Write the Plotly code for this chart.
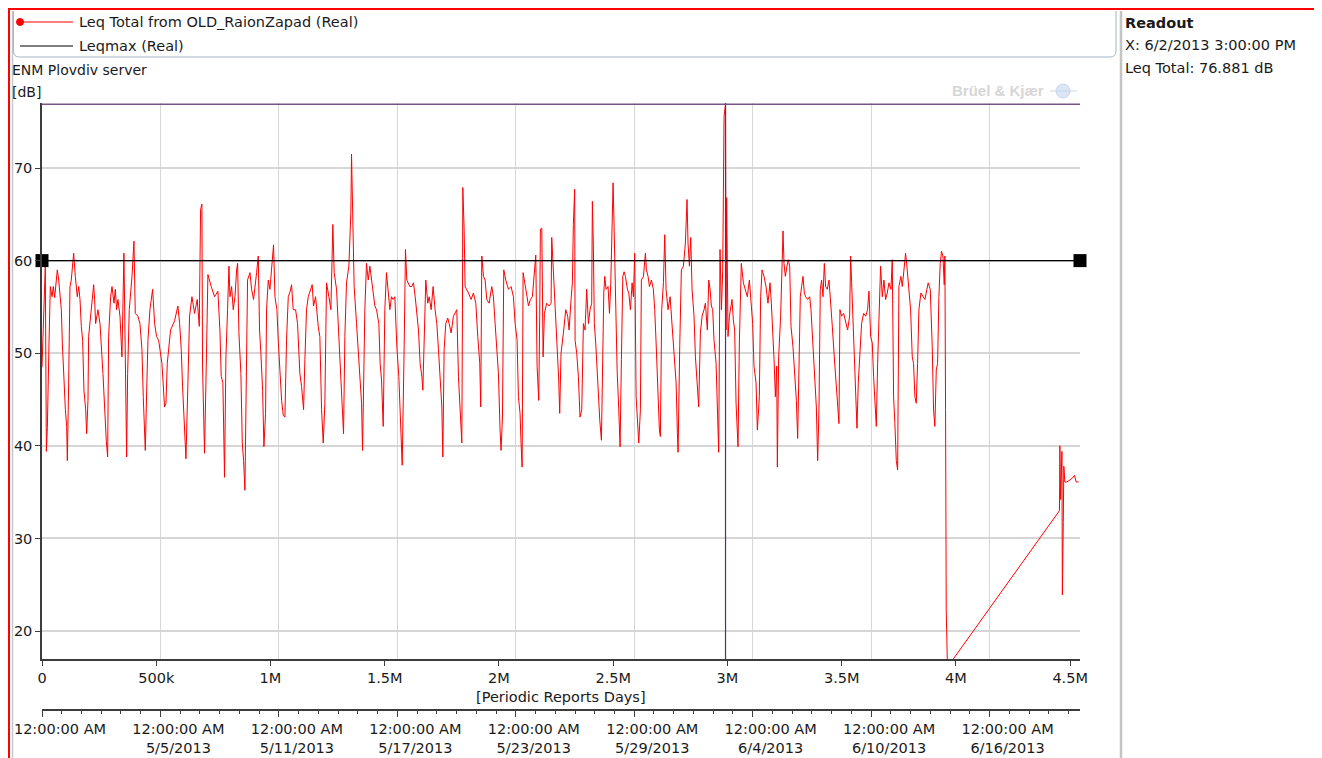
import plotly.graph_objects as go

# Leq Total from OLD_RaionZapad (Real).
# time in hours after 4/29/2013 12:00:00 AM, level in dB
leq_hours = [
    0.0, 1.6, 3.2, 4.0, 5.3, 6.5, 8.5, 10.1, 12.2, 13.8,
    15.4, 17.4, 18.6, 20.3, 22.7, 23.5, 24.7, 26.3, 28.4, 30.0,
    30.8, 32.4, 34.0, 35.6, 37.3, 38.5, 40.5, 42.9, 44.6, 46.2,
    47.8, 49.4, 51.0, 53.1, 54.3, 55.9, 56.7, 58.3, 59.9, 61.6,
    62.8, 64.0, 65.2, 68.0, 70.5, 74.1, 76.1, 78.2, 79.8, 81.0,
    83.4, 85.1, 87.5, 89.1, 90.7, 92.3, 94.8, 97.2, 99.6, 101.3,
    102.5, 102.9, 104.1, 106.1, 109.4, 111.8, 113.4, 116.6, 119.1, 121.5,
    123.1, 125.6, 127.2, 128.8, 131.2, 134.5, 136.9, 139.3, 141.8, 144.2,
    145.8, 149.0, 150.7, 152.3, 156.3, 161.2, 165.2, 167.3, 169.3, 170.9,
    173.3, 175.0, 177.4, 179.4, 182.3, 185.5, 188.7, 191.2, 192.8, 194.4,
    195.2, 197.6, 200.0, 201.7, 205.7, 209.8, 213.8, 216.3, 217.9, 219.9,
    221.9, 223.6, 225.6, 227.3, 228.5, 230.5, 232.5, 234.6, 236.6, 237.8,
    239.4, 241.8, 243.5, 245.1, 246.7, 248.3, 249.9, 252.8, 254.8, 257.2,
    258.9, 260.9, 262.9, 264.5, 266.1, 268.2, 269.8, 271.8, 273.0, 275.1,
    277.1, 279.1, 281.5, 283.2, 285.6, 287.2, 289.2, 291.3, 293.3, 295.3,
    297.3, 299.4, 301.8, 303.4, 305.4, 308.3, 310.7, 313.5, 315.6, 318.0,
    319.6, 321.6, 323.7, 326.9, 328.5, 330.1, 332.6, 335.8, 337.8, 339.9,
    341.9, 343.9, 345.9, 348.8, 351.2, 353.6, 355.2, 358.1, 362.1, 364.2,
    366.6, 368.2, 370.2, 373.1, 375.5, 376.3, 377.9, 379.5, 382.4, 384.4,
    386.4, 388.5, 389.7, 392.5, 394.5, 396.6, 398.6, 400.6, 402.6, 404.7,
    406.7, 409.5, 411.1, 412.8, 414.8, 416.8, 418.8, 420.9, 422.9, 424.9,
    426.9, 429.0, 431.4, 433.8, 435.8, 437.9, 440.3, 441.9, 443.5, 447.2,
    449.6, 451.6, 453.7, 455.7, 457.7, 459.7, 461.8, 463.0, 465.0, 466.6,
    469.0, 470.7, 473.1, 475.5, 477.9, 480.0, 482.0, 484.0, 486.1, 487.3,
    488.9, 490.9, 493.3, 495.0, 497.4, 500.2, 502.3, 504.3, 506.3, 508.3,
    510.4, 511.2, 511.6, 513.2, 514.4, 518.5, 521.7, 524.5, 527.4, 529.8,
    532.2, 533.4, 534.7, 536.7, 538.7, 540.7, 543.6, 546.8, 548.8, 550.9,
    552.9, 554.9, 556.9, 558.1, 559.8, 561.4, 563.8, 567.1, 570.3, 573.1,
    575.2, 577.6, 579.2, 581.2, 582.4, 583.7, 584.9, 587.3, 589.7, 591.4,
    593.8, 596.2, 598.6, 600.3, 601.9, 603.9, 605.1, 605.9, 607.6, 609.2,
    610.8, 613.6, 616.5, 618.9, 619.7, 621.3, 622.9, 624.6, 626.6, 628.2,
    629.4, 631.0, 633.9, 636.7, 639.1, 640.8, 643.2, 644.8, 646.0, 647.6,
    648.1, 650.1, 652.1, 654.1, 656.2, 658.2, 660.2, 662.2, 664.3, 666.3,
    668.3, 669.1, 670.3, 671.5, 673.2, 674.8, 676.4, 678.1, 680.1, 681.8,
    683.0, 684.2, 685.8, 688.2, 689.9, 691.5, 693.1, 694.3, 695.5, 697.2,
    699.2, 701.2, 702.8, 704.4, 706.1, 707.7, 709.3, 711.7, 713.4, 715.4,
    717.4, 719.0, 720.6, 722.3, 723.9, 725.5, 727.5, 728.7, 731.2, 733.6,
    734.8, 736.8, 738.5, 740.9, 743.3, 744.9, 746.6, 748.6, 750.6, 751.8,
    753.4, 755.5, 757.1, 758.7, 761.1, 763.6, 766.0, 768.4, 770.9, 772.5,
    773.3, 775.3, 777.3, 779.8, 782.2, 784.2, 785.4, 787.1, 788.7, 790.3,
    792.7, 794.4, 796.4, 798.4, 800.4, 802.5, 804.9, 806.5, 808.9, 810.6,
    812.2, 813.8, 815.4, 817.0, 819.5, 821.1, 822.7, 824.3, 826.0, 827.6,
    829.2, 831.0, 831.6, 832.4, 834.0, 835.7, 837.3, 838.9, 840.5, 842.1,
    843.8, 845.4, 846.2, 847.8, 849.4, 850.2, 852.7, 855.1, 857.5, 860.0,
    862.4, 864.0, 865.6, 868.1, 869.7, 872.1, 873.7, 875.4, 877.8, 880.2,
    882.6, 885.1, 886.7, 888.3, 890.0, 891.6, 893.2, 894.0, 895.6, 898.0,
    899.7, 900.9, 902.1, 903.7, 905.7, 907.3, 909.0, 910.6, 913.0, 915.4,
    917.1, 918.7, 920.3, 921.9, 923.5, 925.2, 926.8, 928.4, 930.8, 933.3,
    934.9, 936.5, 938.9, 941.4, 943.0, 944.6, 946.2, 947.8, 949.5, 951.1,
    952.7, 954.7, 956.8, 958.4, 960.8, 963.2, 964.9, 967.3, 968.9, 970.1,
    972.1, 974.6, 977.0, 979.4, 981.9, 983.1, 984.3, 986.3, 987.9, 989.6,
    990.8, 992.4, 994.8, 996.4, 998.9, 1001.3, 1003.7, 1005.4, 1007.4, 1009.4,
    1011.0, 1012.6, 1014.3, 1015.9, 1017.5, 1019.5, 1021.6, 1023.6, 1025.6, 1027.6,
    1029.7, 1032.1, 1033.7, 1035.3, 1036.9, 1038.6, 1040.2, 1041.8, 1044.2, 1045.9,
    1047.9, 1049.9, 1051.5, 1054.0, 1056.0, 1058.0, 1059.6, 1061.2, 1062.9, 1064.5,
    1066.1, 1068.5, 1071.0, 1073.4, 1075.8, 1077.4, 1079.9, 1082.3, 1083.9, 1085.5,
    1087.2, 1088.8, 1090.4, 1092.0, 1093.6, 1095.3, 1096.9, 1097.7, 1098.5, 1099.3,
    1100.8, 1237.0, 1237.5, 1238.3, 1240.0, 1240.5, 1241.6, 1242.3, 1243.5, 1246.0,
    1251.3, 1255.3, 1257.3, 1260.2,
]
leq_db = [
    48.5, 53.5, 57.0, 59.4, 39.4, 42.0, 51.0, 57.2, 56.1, 57.2,
    56.0, 57.5, 59.0, 57.9, 55.4, 54.7, 51.1, 47.5, 43.9, 42.1,
    38.4, 46.8, 57.2, 57.9, 59.4, 60.8, 58.3, 56.1, 57.2, 55.8,
    52.9, 51.4, 46.0, 43.9, 41.3, 44.9, 51.8, 53.2, 55.1, 56.5,
    57.4, 55.8, 53.2, 54.7, 53.2, 47.8, 43.9, 40.5, 38.8, 51.8,
    56.1, 57.2, 55.4, 56.9, 54.7, 55.8, 54.0, 49.6, 60.8, 49.3,
    44.2, 38.8, 47.8, 54.7, 58.3, 62.1, 54.3, 54.0, 53.2, 50.4,
    45.3, 39.5, 45.7, 51.4, 54.7, 56.9, 53.2, 51.8, 51.4, 50.0,
    48.9, 44.2, 44.6, 48.9, 52.5, 53.5, 55.1, 53.2, 50.4, 46.4,
    41.3, 38.6, 46.8, 54.0, 56.1, 54.3, 55.8, 52.9, 65.5, 66.1,
    48.6, 39.2, 50.0, 58.5, 57.2, 56.1, 56.7, 52.5, 47.5, 46.8,
    36.6, 49.6, 54.7, 59.4, 56.1, 57.2, 54.7, 56.1, 59.0, 59.7,
    52.2, 47.8, 40.3, 38.4, 35.2, 46.4, 57.9, 58.7, 56.9, 55.8,
    56.9, 58.7, 60.5, 52.5, 50.0, 46.0, 39.9, 43.5, 54.7, 57.9,
    56.9, 59.0, 61.7, 56.1, 54.7, 51.4, 47.5, 44.9, 43.3, 43.1,
    51.4, 56.1, 56.7, 57.4, 54.7, 54.7, 53.2, 47.8, 46.4, 43.9,
    49.3, 54.7, 56.1, 56.9, 57.4, 55.1, 56.1, 52.9, 51.8, 43.9,
    40.3, 44.6, 57.6, 56.1, 54.7, 63.9, 58.7, 56.9, 50.0, 45.3,
    41.3, 51.8, 57.6, 59.4, 65.2, 71.5, 63.4, 57.2, 53.2, 50.7,
    47.5, 44.6, 39.5, 54.7, 59.7, 57.9, 59.4, 57.9, 56.1, 55.1,
    54.7, 53.2, 48.9, 47.1, 42.1, 54.7, 58.7, 56.5, 54.7, 56.1,
    55.8, 56.1, 50.7, 47.5, 42.1, 37.9, 50.7, 61.2, 57.9, 57.2,
    57.2, 57.6, 56.1, 54.0, 52.5, 48.9, 47.5, 46.0, 51.4, 57.9,
    55.4, 56.1, 54.7, 57.2, 54.7, 53.2, 50.4, 47.5, 44.2, 38.8,
    50.4, 53.2, 53.8, 53.2, 52.2, 54.0, 54.3, 54.7, 47.5, 44.2,
    40.3, 54.7, 67.9, 63.4, 57.2, 56.5, 55.8, 56.5, 55.4, 51.8,
    48.9, 44.2, 60.5, 58.3, 57.9, 55.8, 55.4, 57.2, 56.1, 53.2,
    50.4, 47.8, 41.7, 39.5, 43.1, 59.0, 57.9, 56.9, 57.2, 56.1,
    53.2, 51.4, 45.3, 43.5, 40.3, 37.7, 58.7, 57.6, 56.1, 55.1,
    55.8, 56.1, 58.3, 60.6, 48.6, 44.9, 54.0, 63.4, 63.5, 49.6,
    54.3, 55.4, 55.1, 55.4, 62.5, 59.7, 57.2, 53.2, 49.3, 47.1,
    43.5, 50.0, 52.2, 54.7, 54.0, 52.5, 55.8, 57.6, 63.9, 67.7,
    51.4, 50.0, 47.5, 43.1, 43.9, 53.2, 52.5, 56.9, 53.2, 54.7,
    55.4, 66.4, 61.6, 53.2, 51.1, 47.8, 44.5, 42.8, 40.6, 51.8,
    56.5, 58.3, 56.9, 57.2, 54.3, 57.6, 62.3, 68.4, 63.7, 55.1,
    48.2, 43.9, 39.9, 49.3, 58.3, 58.8, 58.3, 56.9, 56.5, 54.7,
    57.6, 56.1, 60.8, 45.3, 42.1, 40.3, 43.9, 57.9, 58.3, 60.8,
    59.0, 58.3, 57.2, 57.9, 56.9, 54.7, 51.1, 46.4, 41.7, 41.0,
    54.7, 57.6, 62.8, 56.9, 54.7, 56.1, 52.9, 49.3, 46.8, 41.3,
    39.3, 50.7, 59.0, 59.4, 61.9, 66.6, 61.9, 59.4, 62.5, 56.9,
    54.0, 49.6, 46.4, 44.2, 52.2, 54.0, 54.7, 55.4, 52.5, 57.9,
    56.9, 55.1, 54.7, 51.4, 48.9, 42.4, 39.3, 61.2, 54.7, 59.0,
    75.6, 76.881, 52.5, 66.8, 51.8, 54.0, 54.7, 55.8, 53.6, 52.5,
    44.6, 42.1, 39.9, 51.1, 56.9, 59.7, 57.6, 56.9, 56.1, 57.9,
    55.1, 53.2, 48.6, 46.8, 41.7, 45.3, 56.1, 59.0, 58.3, 57.2,
    55.4, 57.6, 55.4, 52.9, 49.3, 45.3, 48.6, 37.7, 49.6, 54.0,
    61.6, 63.2, 59.7, 58.3, 59.4, 60.1, 59.4, 52.9, 50.7, 47.8,
    44.9, 40.8, 49.6, 56.1, 57.2, 58.3, 56.5, 56.1, 55.8, 56.1,
    54.7, 51.8, 48.9, 44.2, 38.4, 43.9, 56.9, 57.9, 56.1, 59.7,
    57.2, 56.9, 57.9, 56.1, 52.9, 49.6, 47.5, 44.6, 42.4, 54.7,
    54.0, 54.3, 53.2, 52.5, 54.0, 60.5, 57.6, 53.2, 47.8, 43.9,
    41.9, 46.8, 51.1, 53.2, 54.3, 54.0, 54.7, 56.7, 51.8, 51.1,
    47.5, 44.9, 42.1, 48.9, 54.0, 59.4, 56.1, 57.9, 55.8, 56.5,
    57.6, 56.9, 60.1, 45.3, 42.4, 38.4, 37.4, 57.2, 58.3, 57.2,
    59.0, 60.8, 59.4, 56.9, 54.7, 49.6, 48.9, 45.3, 44.6, 48.9,
    54.7, 56.5, 56.1, 55.8, 56.9, 57.6, 56.9, 50.7, 43.9, 42.1,
    48.2, 48.9, 56.1, 59.7, 61.0, 60.5, 57.4, 60.5, 43.9, 22.3,
    16.1, 33.0, 40.0, 34.2, 39.4, 23.9, 31.7, 37.8, 36.1, 36.1,
    36.4, 36.8, 36.1, 36.1,
]
assert len(leq_hours) == len(leq_db)

leqmax_db = 60.0
x_end_s = 4.543e6          # right end of the time axis, seconds
cursor_hour = 831.0        # readout cursor: 6/2/2013 3:00:00 PM
cursor_db = 76.881

sec_ticks = [0, 500e3, 1e6, 1.5e6, 2e6, 2.5e6, 3e6, 3.5e6, 4e6, 4.5e6]
sec_labels = ["0", "500k", "1M", "1.5M", "2M", "2.5M", "3M", "3.5M", "4M", "4.5M"]
date_days = [0, 6, 12, 18, 24, 30, 36, 42, 48]
date_labels = ["12:00:00 AM", "12:00:00 AM<br>5/5/2013", "12:00:00 AM<br>5/11/2013",
               "12:00:00 AM<br>5/17/2013", "12:00:00 AM<br>5/23/2013",
               "12:00:00 AM<br>5/29/2013", "12:00:00 AM<br>6/4/2013",
               "12:00:00 AM<br>6/10/2013", "12:00:00 AM<br>6/16/2013"]
y_ticks = [20, 30, 40, 50, 60, 70]

# the page puts the figure 8px in from the window corner
OFF = 8
W, H = 1314, 750
ML, MR, MT, MB = 34, 242, 95, 40
PW, PH = W - ML - MR, H - MT - MB
PLOT_BOTTOM = 659   # window pixel rows / columns below


def px(x):
    return (x - OFF - ML) / PW


def py(y):
    return (H - MB - (y - OFF)) / PH


FONT = "DejaVu Sans"
TXT = "#1a1a1a"
FS = 14.5

fig = go.Figure()
fig.add_trace(go.Scatter(
    x=[h * 3600 for h in leq_hours], y=leq_db, mode="lines",
    line=dict(color="#ff0000", width=1), hoverinfo="skip", showlegend=False))
fig.add_trace(go.Scatter(
    x=[0, x_end_s], y=[leqmax_db, leqmax_db], mode="lines+markers", xaxis="x2",
    line=dict(color="#000000", width=1.2),
    marker=dict(symbol="square", size=13, color="#000000"),
    cliponaxis=False, hoverinfo="skip", showlegend=False))

shapes = [
    # readout cursor
    dict(type="line", xref="x", yref="y", x0=cursor_hour * 3600, x1=cursor_hour * 3600,
         y0=16.98, y1=77.02, line=dict(color="#5a2d78", width=1.2)),
    dict(type="line", xref="x", yref="y", x0=0, x1=x_end_s, y0=cursor_db, y1=cursor_db,
         line=dict(color="#7a5486", width=1.4)),
]

# window frame, separators
shapes += [
    dict(type="line", xref="paper", yref="paper", x0=px(9), x1=px(9), y0=py(8), y1=py(760),
         line=dict(color="#ff0000", width=2), layer="above"),
    dict(type="line", xref="paper", yref="paper", x0=px(8), x1=px(1318), y0=py(9), y1=py(9),
         line=dict(color="#ff0000", width=2), layer="above"),
    dict(type="line", xref="paper", yref="paper", x0=px(1318), x1=px(1318), y0=py(8), y1=py(760),
         line=dict(color="#ff0000", width=2), layer="above"),
    dict(type="line", xref="paper", yref="paper", x0=px(12.5), x1=px(12.5), y0=py(11), y1=py(760),
         line=dict(color="#c8c8c8", width=1.5)),
    dict(type="line", xref="paper", yref="paper", x0=px(1121), x1=px(1121), y0=py(11), y1=py(760),
         line=dict(color="#c4c4c4", width=2.5)),
]

# legend box (rounded)
lx0, lx1, ly0, ly1, r = 13.5, 1116, 11, 57, 6
path = (f"M {px(lx0)} {py(ly0)} L {px(lx0)} {py(ly1 - r)} Q {px(lx0)} {py(ly1)} {px(lx0 + r)} {py(ly1)} "
        f"L {px(lx1 - r)} {py(ly1)} Q {px(lx1)} {py(ly1)} {px(lx1)} {py(ly1 - r)} L {px(lx1)} {py(ly0)}")
shapes.append(dict(type="path", xref="paper", yref="paper", path=path,
                   line=dict(color="#a7b4c6", width=1)))
shapes += [
    dict(type="line", xref="paper", yref="paper", x0=px(20), x1=px(73), y0=py(22), y1=py(22),
         line=dict(color="#ff0000", width=1.2)),
    dict(type="circle", xref="paper", yref="paper", x0=px(16.5), x1=px(23.5), y0=py(18.5), y1=py(25.5),
         line=dict(color="#ff0000", width=1), fillcolor="#ff0000"),
    dict(type="line", xref="paper", yref="paper", x0=px(20), x1=px(73), y0=py(46), y1=py(46),
         line=dict(color="#000000", width=1.2)),
    # watermark globe
    dict(type="circle", xref="paper", yref="paper", x0=px(1056), x1=px(1070), y0=py(84), y1=py(98),
         line=dict(color="#c7d6ee", width=1), fillcolor="#dbe5f5"),
    dict(type="line", xref="paper", yref="paper", x0=px(1050), x1=px(1077), y0=py(91), y1=py(91),
         line=dict(color="#c7d6ee", width=1)),
]


def note(text, x, y, size=FS, color=TXT, anchor="left"):
    return dict(text=text, xref="paper", yref="paper", x=px(x), y=py(y), xanchor=anchor,
                yanchor="middle", showarrow=False, borderpad=0,
                font=dict(family=FONT, size=size, color=color))


annotations = [
    note("Leq Total from OLD_RaionZapad (Real)", 78, 22),
    note("Leqmax (Real)", 78, 46),
    note("ENM Plovdiv server", 11, 70, size=14),
    note("[dB]", 11, 92, size=14),
    note("<b>Readout</b>", 1124, 23),
    note("X: 6/2/2013 3:00:00 PM", 1124, 45),
    note("Leq Total: 76.881 dB", 1124, 68),
    note("[Periodic Reports Days]", 561, 697, anchor="center"),
    dict(text="<b>Brüel &amp; Kjær</b>", xref="paper", yref="paper", x=px(1046), y=py(91),
         xanchor="right", yanchor="middle", showarrow=False,
         font=dict(family="Liberation Sans", size=15, color="#d6d6d6")),
]

axis_font = dict(family=FONT, size=FS, color=TXT)
fig.update_layout(
    width=W, height=H, margin=dict(l=ML, r=MR, t=MT, b=MB, autoexpand=False),
    paper_bgcolor="white", plot_bgcolor="white", showlegend=False,
    shapes=shapes, annotations=annotations,
    xaxis=dict(range=[0, x_end_s], tickmode="array", tickvals=sec_ticks, ticktext=sec_labels,
               showgrid=False, zeroline=False, showline=True, linecolor="#3c3c3c", linewidth=1.5,
               ticks="outside", ticklen=5, tickcolor="#3c3c3c", tickfont=axis_font,
               anchor="y", fixedrange=True, automargin=False),
    xaxis2=dict(range=[0, x_end_s], overlaying="x", anchor="free", position=py(710),
                tickmode="array", tickvals=[d * 86400 for d in date_days], ticktext=date_labels,
                showgrid=True, gridcolor="#d6d6d6", gridwidth=1, zeroline=False,
                showline=True, linecolor="#3c3c3c", linewidth=1.5,
                ticks="outside", ticklen=6, tickcolor="#3c3c3c", tickfont=axis_font,
                ticklabelshift=18, automargin=False,
                minor=dict(tick0=0, dtick=86400, ticks="outside", ticklen=3,
                           tickcolor="#3c3c3c", showgrid=False)),
    yaxis=dict(range=[16.98, 77.02], domain=[py(PLOT_BOTTOM), 1], tickvals=y_ticks,
               showgrid=True, gridcolor="#d6d6d6", gridwidth=1.5, zeroline=False,
               showline=True, linecolor="#3c3c3c", linewidth=1.5,
               ticks="outside", ticklen=5, tickcolor="#3c3c3c", tickfont=axis_font,
               fixedrange=True, automargin=False),
)

fig.write_html("out.html")
